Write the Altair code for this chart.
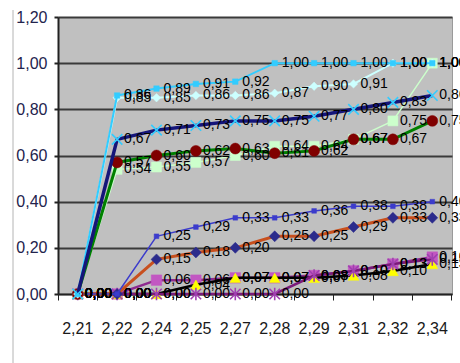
import altair as alt
import pandas as pd

# Category labels along the x axis
categories = ["2,21", "2,22", "2,24", "2,25", "2,27", "2,28", "2,29", "2,31", "2,32", "2,34"]

# Series values (one list per line)
s_magenta = [0.00, 0.00, 0.06, 0.06, 0.07, 0.07, 0.08, 0.10, 0.13, 0.16]
s_black = [0.00, 0.00, 0.00, 0.04, 0.07, 0.07, 0.07, 0.08, 0.10, 0.13]
s_purple = [0.00, 0.00, 0.00, 0.00, 0.00, 0.00, 0.08, 0.10, 0.13, 0.15]
s_orange = [0.00, 0.00, 0.15, 0.18, 0.20, 0.25, 0.25, 0.29, 0.33, 0.33]
s_blue = [0.00, 0.00, 0.25, 0.29, 0.33, 0.33, 0.36, 0.38, 0.38, 0.40]
s_pale = [0.00, 0.54, 0.55, 0.57, 0.60, 0.64, 0.64, 0.67, 0.75, 1.00]
s_green = [0.00, 0.57, 0.60, 0.62, 0.63, 0.61, 0.62, 0.67, 0.67, 0.75]
s_navy = [0.00, 0.67, 0.71, 0.73, 0.75, 0.75, 0.77, 0.80, 0.83, 0.86]
s_cyan = [0.00, 0.85, 0.85, 0.86, 0.86, 0.87, 0.90, 0.91, 1.00, 1.00]
s_sky = [0.00, 0.86, 0.89, 0.91, 0.92, 1.00, 1.00, 1.00, 1.00, 1.00]

y_ticks = [0.0, 0.2, 0.4, 0.6, 0.8, 1.0, 1.2]

X_MARK = "M-1,-1L1,1M-1,1L1,-1"
STAR_MARK = "M-1,-1L1,1M-1,1L1,-1M0,-1.2L0,1.2"

# name, values, line colour, line width, marker shape, marker colour, marker size, filled
series = [
    ("magenta", s_magenta, "#8E2A8E", 2.5, "square", "#C257C2", 110, True),
    ("black", s_black, "#000000", 2.5, "triangle-up", "#FFFF00", 120, True),
    ("purple", s_purple, "#7A1A7A", 2.5, STAR_MARK, "#A040B0", 110, False),
    ("orange", s_orange, "#C8501E", 3, "diamond", "#2B2B8C", 120, True),
    ("blue", s_blue, "#3C3CCC", 1.5, "square", "#3C3CCC", 22, True),
    ("pale", s_pale, "#CCFFCC", 1.5, "square", "#CCFFCC", 100, True),
    ("green", s_green, "#008000", 3, "circle", "#800000", 120, True),
    ("cyan", s_cyan, "#CCFFFF", 2, "diamond", "#CCFFFF", 70, True),
    ("sky", s_sky, "#33CCFF", 2, "square", "#33CCFF", 30, True),
    ("navy", s_navy, "#15157A", 3.5, X_MARK, "#33CCFF", 110, False),
]

FONT = "Liberation Sans, Arial, sans-serif"

x_enc = alt.X(
    "cat:O",
    sort=categories,
    bandPosition=0.5,
    scale=alt.Scale(type="band", domain=categories, paddingInner=0, paddingOuter=0),
    axis=alt.Axis(
        title=None,
        labelAngle=0,
        bandPosition=1,
        tickExtra=True,
        tickSize=6,
        tickColor="#222222",
        tickWidth=1,
        domainColor="#222222",
        domainWidth=1.5,
        grid=False,
        labelFont=FONT,
        labelFontSize=16,
        labelColor="#1a1a1a",
        labelPadding=20,
    ),
)

y_enc = alt.Y(
    "v:Q",
    scale=alt.Scale(domain=[0, 1.2], nice=False, zero=True),
    axis=alt.Axis(
        title=None,
        values=y_ticks,
        labelExpr="replace(format(datum.value, '.2f'), '.', ',')",
        grid=True,
        gridColor="#3a3a3a",
        gridWidth=2,
        tickSize=4,
        tickColor="#222222",
        tickWidth=2,
        domainColor="#222222",
        domainWidth=2,
        labelFont=FONT,
        labelFontSize=16,
        labelColor="#23234d",
        labelPadding=7,
    ),
)

layers = []
frames = []
for name, vals, lcol, lw, shape, mcol, msize, filled in series:
    df = pd.DataFrame({"cat": categories, "v": vals})
    df["s"] = name
    df["lab"] = [f"{v:.2f}".replace(".", ",") for v in vals]
    frames.append(df)
    base = alt.Chart(df)
    layers.append(base.mark_line(color=lcol, strokeWidth=lw).encode(x=x_enc, y=y_enc))
    if filled:
        pt = base.mark_point(shape=shape, filled=True, fill=mcol, stroke=mcol,
                             strokeWidth=0.5, size=msize, opacity=1)
    else:
        pt = base.mark_point(shape=shape, filled=False, stroke=mcol,
                             strokeWidth=1.6, size=msize, opacity=1)
    layers.append(pt.encode(x=x_enc, y=y_enc))

labels_df = pd.concat(frames, ignore_index=True)
labels = alt.Chart(labels_df).mark_text(
    align="left", baseline="middle", dx=7, font=FONT, fontSize=14, color="#000000"
).encode(x=x_enc, y=y_enc, text="lab:N")

# thin border of the chart area on the left
border = alt.Chart(pd.DataFrame({"k": [0]})).mark_rule(color="#B4B4B4", strokeWidth=1).encode(
    x=alt.value(-45), y=alt.value(-7), y2=alt.value(346)
)

chart = alt.layer(border, *layers, labels).properties(
    width=394,
    height=277,
    autosize=alt.AutoSizeParams(type="none"),
    padding={"left": 58, "top": 17, "right": 8, "bottom": 69},
    background="#FFFFFF",
).configure_view(fill="#C0C0C0", stroke="#9A9A9A", strokeWidth=1)

chart.save("out.html", embed_options={"renderer": "svg", "actions": False})
